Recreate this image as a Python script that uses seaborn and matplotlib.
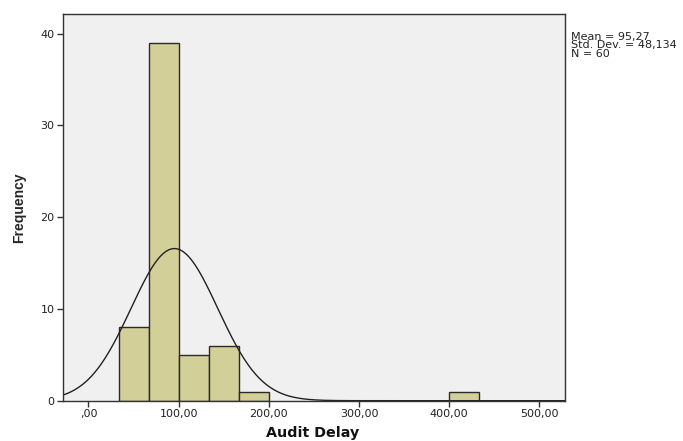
import numpy as np
import matplotlib
matplotlib.use("Agg")
import matplotlib.pyplot as plt
import seaborn as sns

# histogram data (Audit Delay, SPSS output)
bin_edges = [0.0, 33.33, 66.67, 100.0, 133.33, 166.67, 200.0, 233.33, 266.67,
             300.0, 333.33, 366.67, 400.0, 433.33]
counts = [0, 8, 39, 5, 6, 1, 0, 0, 0, 0, 0, 0, 1]
mean_val = 95.27
std_val = 48.134
n_obs = 60

x_ticks = [0, 100, 200, 300, 400, 500]
x_labels = [",00", "100,00", "200,00", "300,00", "400,00", "500,00"]
y_ticks = [0, 10, 20, 30, 40]

sns.set_theme(style="white")
plt.rcParams["font.family"] = ["DejaVu Sans"]

fig = plt.figure(figsize=(6.83, 4.41), dpi=100)
ax = fig.add_axes([0.0918, 0.0914, 0.827 - 0.0918, 0.9676 - 0.0914])
ax.set_facecolor("#f0f0f0")

centers = [(a + b) / 2 for a, b in zip(bin_edges[:-1], bin_edges[1:])]
sns.histplot(x=centers, weights=counts, bins=bin_edges, ax=ax,
             color="#d3cf98", alpha=1, edgecolor="#2a2a2a", linewidth=1.0)
# drop empty bins so no edge lines sit on the baseline
for p in list(ax.patches):
    if p.get_height() == 0:
        p.remove()

# fitted normal curve
xs = np.linspace(-28.6, 528.3, 400)
width = bin_edges[1] - bin_edges[0]
ys = n_obs * width * np.exp(-0.5 * ((xs - mean_val) / std_val) ** 2) / (std_val * np.sqrt(2 * np.pi))
sns.lineplot(x=xs, y=ys, ax=ax, color="#222222", linewidth=1.0)

ax.set_xlim(-28.6, 528.3)
ax.set_ylim(0, 42.1)
ax.set_xticks(x_ticks)
ax.set_xticklabels(x_labels)
ax.set_yticks(y_ticks)
ax.tick_params(axis="both", direction="out", length=4, width=1, color="#333333",
               labelsize=8, labelcolor="#222222", bottom=True, left=True, pad=2)
for s in ax.spines.values():
    s.set_color("#333333")
    s.set_linewidth(1.0)

ax.set_xlabel("")
ax.set_ylabel("Frequency", fontsize=10, fontweight="bold", labelpad=10,
              family=["Liberation Sans Narrow", "Liberation Sans"])
fig.text(0.4575, 0.018, "Audit Delay", fontsize=10.3, fontweight="bold",
         ha="center", va="center", color="#111111")

fig.text(0.836, 0.928, "Mean = 95,27\nStd. Dev. = 48,134\nN = 60",
         fontsize=8, va="top", ha="left", color="#222222", linespacing=0.8)

fig.savefig("out.png", dpi=100)
